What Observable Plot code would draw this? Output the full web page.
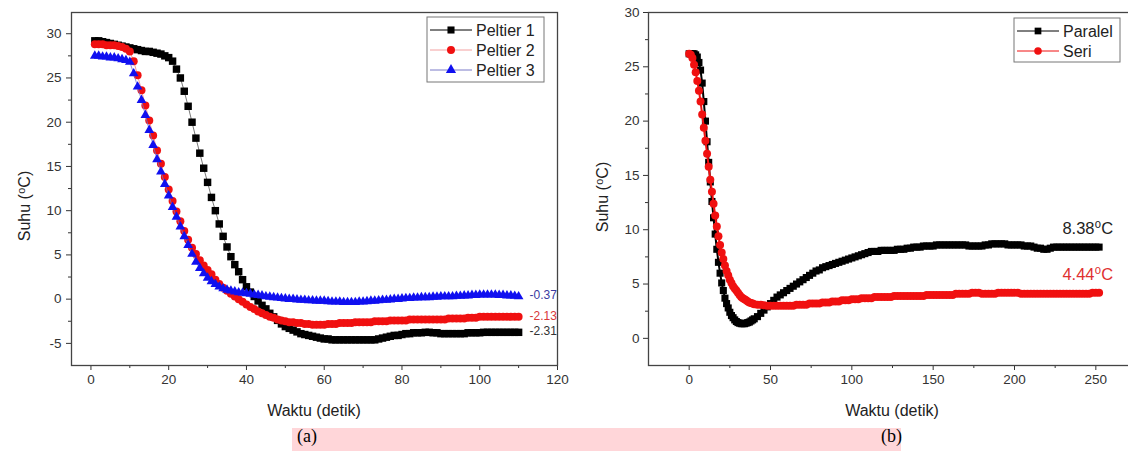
<!DOCTYPE html>
<html><head><meta charset="utf-8">
<script src="https://cdn.jsdelivr.net/npm/d3@7"></script>
<script src="https://cdn.jsdelivr.net/npm/@observablehq/plot@0.6"></script>
<style>
html,body{margin:0;padding:0;background:#fff;overflow:hidden;width:1128px;height:451px;}
#a{position:absolute;left:0;top:0;width:580px;height:425px;}
#b{position:absolute;left:580px;top:0;width:560px;height:425px;}
#a svg,#b svg{max-width:none !important;}
.band{position:absolute;left:292px;top:428px;width:609px;height:23px;background:#ffd6d9;}
.cap{position:absolute;top:426px;font-family:"Liberation Serif","Times New Roman",serif;font-size:18px;color:#000;}
</style></head><body>
<div class="band"></div>
<div id="a"></div><div id="b"></div>
<div class="cap" style="left:297px">(a)</div>
<div class="cap" style="left:881px">(b)</div>
<script>
// ---------- Panel (a) data ----------
const seriesNamesA = ["Peltier 1", "Peltier 2", "Peltier 3"];
const endLabelsA = ["-2.31", "-2.13", "-0.37"];
const timeA = [1,2,3,4,5,6,7,8,9,10,11,12,13,14,15,16,17,18,19,20,
 21,22,23,24,25,26,27,28,29,30,31,32,33,34,35,36,37,38,39,40,
 41,42,43,44,45,46,47,48,49,50,51,52,53,54,55,56,57,58,59,60,
 61,62,63,64,65,66,67,68,69,70,71,72,73,74,75,76,77,78,79,80,
 81,82,83,84,85,86,87,88,89,90,91,92,93,94,95,96,97,98,99,100,
 101,102,103,104,105,106,107,108,109,110];
const peltier1 = [29.2,29.2,29.1,29.0,28.9,28.8,28.7,28.6,28.5,28.4,
 28.3,28.2,28.1,28.0,28.0,27.9,27.8,27.7,27.5,27.3,
 26.9,26.0,25.0,23.5,21.8,20.0,18.2,16.5,14.8,13.2,
 11.5,10.0,8.5,7.1,5.9,4.8,3.9,3.1,2.2,1.4,
 0.8,0.3,-0.2,-0.7,-1.1,-1.6,-2.0,-2.4,-2.8,-3.1,
 -3.3,-3.5,-3.7,-3.9,-4.0,-4.1,-4.2,-4.3,-4.4,-4.5,
 -4.5,-4.6,-4.6,-4.6,-4.6,-4.6,-4.6,-4.6,-4.6,-4.6,
 -4.6,-4.6,-4.6,-4.5,-4.4,-4.3,-4.2,-4.1,-4.1,-4.0,
 -3.9,-3.9,-3.8,-3.8,-3.8,-3.75,-3.75,-3.8,-3.8,-3.9,
 -3.9,-3.9,-3.9,-3.9,-3.9,-3.9,-3.8,-3.8,-3.8,-3.8,
 -3.75,-3.75,-3.75,-3.75,-3.75,-3.75,-3.75,-3.75,-3.75,-3.75];
const peltier2 = [28.8,28.8,28.8,28.7,28.7,28.7,28.6,28.5,28.3,28.0,
 26.9,25.3,23.6,21.9,20.2,18.5,16.8,15.3,13.8,12.4,
 11.1,9.9,8.8,7.7,6.7,5.8,5.1,4.4,3.8,3.3,
 2.8,2.2,1.7,1.3,0.95,0.6,0.3,0.0,-0.3,-0.6,
 -0.9,-1.1,-1.4,-1.6,-1.8,-2.0,-2.1,-2.3,-2.4,-2.5,
 -2.6,-2.6,-2.7,-2.7,-2.8,-2.8,-2.9,-2.9,-2.9,-2.9,
 -2.8,-2.8,-2.8,-2.7,-2.7,-2.7,-2.7,-2.6,-2.6,-2.6,
 -2.6,-2.6,-2.5,-2.5,-2.5,-2.5,-2.4,-2.4,-2.4,-2.4,
 -2.4,-2.3,-2.3,-2.3,-2.3,-2.3,-2.3,-2.3,-2.3,-2.3,
 -2.3,-2.2,-2.2,-2.2,-2.2,-2.2,-2.1,-2.1,-2.1,-2.0,
 -2.0,-2.0,-2.0,-2.0,-2.0,-2.0,-2.0,-2.0,-2.0,-2.0];
const peltier3 = [27.5,27.5,27.4,27.4,27.3,27.3,27.2,27.1,27.0,26.8,
 25.5,24.0,22.5,20.8,19.1,17.4,15.8,14.4,13.0,11.7,
 10.4,9.3,8.2,7.1,6.1,5.1,4.2,3.5,2.9,2.4,
 2.0,1.7,1.4,1.2,1.05,0.95,0.85,0.75,0.7,0.65,
 0.6,0.5,0.45,0.4,0.3,0.25,0.2,0.15,0.1,0.05,
 0.0,0.0,-0.05,-0.1,-0.1,-0.15,-0.15,-0.2,-0.2,-0.2,
 -0.25,-0.3,-0.3,-0.3,-0.35,-0.35,-0.35,-0.35,-0.3,-0.3,
 -0.25,-0.2,-0.2,-0.15,-0.1,-0.1,-0.05,0.0,0.0,0.05,
 0.1,0.1,0.15,0.15,0.2,0.2,0.2,0.25,0.25,0.3,
 0.3,0.3,0.3,0.35,0.35,0.4,0.4,0.45,0.45,0.5,
 0.5,0.5,0.5,0.5,0.45,0.45,0.4,0.4,0.35,0.3];
const xTicksA = [0,20,40,60,80,100,120];
const xMinorA = [10,30,50,70,90,110];
const yTicksA = [-5,0,5,10,15,20,25,30];
const yMinorA = [-2.5,2.5,7.5,12.5,17.5,22.5,27.5];

// ---------- Panel (b) data ----------
const seriesNamesB = ["Paralel", "Seri"];
const endLabelsB = ["8.38\u2070C", "4.44\u2070C"];
const timeB = [0,1,2,3,4,5,6,7,8,9,10,11,12,13,14,15,16,17,18,19,20,
 21,22,23,24,25,26,27,28,29,30,31,32,33,34,35,36,37,38,39,40,
 42,44,46,48,50,52,54,56,58,60,
 62,64,66,68,70,72,74,76,78,80,
 82,84,86,88,90,92,94,96,98,100,
 102,104,106,108,110,112,114,116,118,120,
 122,124,126,128,130,132,134,136,138,140,
 142,144,146,148,150,152,154,156,158,160,
 162,164,166,168,170,172,174,176,178,180,
 182,184,186,188,190,192,194,196,198,200,
 202,204,206,208,210,212,214,216,218,220,
 222,224,226,228,230,232,234,236,238,240,
 242,244,246,248,250,252];
const paralel = [26.2,26.2,26.2,26.2,26.1,25.9,25.4,24.7,23.5,21.8,
 20.0,18.1,16.2,14.4,12.6,11.1,9.6,8.2,7.0,6.0,
 5.1,4.4,3.7,3.2,2.8,2.4,2.1,1.9,1.7,1.55,
 1.45,1.4,1.35,1.35,1.35,1.4,1.45,1.5,1.6,1.7,
 1.8,
 2.0,2.3,2.6,2.9,3.2,3.5,3.8,4.0,4.2,4.4,
 4.6,4.8,5.0,5.2,5.4,5.6,5.8,6.0,6.2,6.3,
 6.5,6.6,6.7,6.8,6.9,7.0,7.1,7.2,7.3,7.4,
 7.5,7.6,7.7,7.8,7.9,8.0,8.0,8.0,8.1,8.1,
 8.1,8.1,8.1,8.2,8.2,8.2,8.3,8.3,8.4,8.4,
 8.4,8.5,8.5,8.5,8.5,8.6,8.6,8.6,8.6,8.6,
 8.6,8.6,8.6,8.6,8.6,8.5,8.5,8.5,8.5,8.5,
 8.6,8.6,8.7,8.7,8.7,8.7,8.7,8.6,8.6,8.6,
 8.6,8.6,8.5,8.5,8.5,8.4,8.3,8.3,8.2,8.2,
 8.3,8.4,8.4,8.4,8.4,8.4,8.4,8.4,8.4,8.4,
 8.4,8.4,8.4,8.4,8.4,8.4];
const seri = [26.2,26.1,25.8,25.2,24.5,23.7,22.8,21.8,20.6,19.4,
 18.2,17.0,15.8,14.6,13.5,12.4,11.3,10.3,9.4,8.6,
 7.9,7.3,6.7,6.2,5.8,5.4,5.1,4.8,4.6,4.4,
 4.2,4.0,3.8,3.7,3.6,3.5,3.4,3.3,3.25,3.2,
 3.15,
 3.1,3.1,3.05,3.0,3.0,3.0,3.0,3.0,3.0,3.0,
 3.0,3.0,3.1,3.1,3.1,3.1,3.2,3.2,3.2,3.2,
 3.3,3.3,3.3,3.4,3.4,3.4,3.5,3.5,3.5,3.6,
 3.6,3.6,3.7,3.7,3.7,3.7,3.8,3.8,3.8,3.8,
 3.8,3.8,3.9,3.9,3.9,3.9,3.9,3.9,3.9,3.9,
 3.9,3.9,4.0,4.0,4.0,4.0,4.0,4.0,4.0,4.0,
 4.0,4.1,4.1,4.1,4.1,4.1,4.2,4.2,4.2,4.1,
 4.1,4.1,4.1,4.1,4.2,4.2,4.2,4.2,4.2,4.2,
 4.2,4.1,4.1,4.1,4.1,4.1,4.1,4.1,4.1,4.1,
 4.1,4.1,4.1,4.1,4.1,4.1,4.1,4.1,4.1,4.1,
 4.1,4.1,4.1,4.2,4.2,4.2];
const xTicksB = [0,50,100,150,200,250];
const xMinorB = [25,75,125,175,225];
const yTicksB = [0,5,10,15,20,25,30];
const yMinorB = [2.5,7.5,12.5,17.5,22.5,27.5];

const axisTitleX = "Waktu (detik)";
const axisTitleY = "Suhu (\u2070C)";

// ---------- helpers ----------
const FONT = '"Liberation Sans", Arial, "DejaVu Sans", sans-serif';
const rows = (times, vals) => times.map((t, i) => ({t, v: vals[i]}));
const fmt = d => String(d);

function axes(xt, xm, yt, ym, yPad) {
  return [
    Plot.axisX({ticks: xt, tickSize: 5, tickPadding: 4, tickFormat: fmt, fontSize: 13.5, stroke: "#333", fill: "#333"}),
    Plot.axisX({ticks: xm, tickSize: 3, tickFormat: () => "", stroke: "#333"}),
    Plot.axisY({ticks: yt, tickSize: 5, tickPadding: yPad, tickFormat: fmt, fontSize: 13.5, stroke: "#333", fill: "#333"}),
    Plot.axisY({ticks: ym, tickSize: 3, tickFormat: () => "", stroke: "#333"})
  ];
}

function addLegend(svg, box, entries) {
  const g = d3.select(svg).append("g").attr("font-family", FONT).attr("text-anchor", "start");
  g.append("rect").attr("x", box.x).attr("y", box.y).attr("width", box.w).attr("height", box.h)
    .attr("fill", "#fff").attr("stroke", "#777").attr("stroke-width", 1);
  entries.forEach((e, i) => {
    const y = box.y + box.first + i * box.step;
    g.append("line").attr("x1", box.x + 3).attr("x2", box.x + 45).attr("y1", y).attr("y2", y)
      .attr("stroke", e.line).attr("stroke-width", 1);
    g.append("path").attr("d", d3.symbol(e.sym, e.size)()).attr("transform", `translate(${box.x + 24},${y})`)
      .attr("fill", e.color);
    g.append("text").attr("x", box.x + 49).attr("y", y).attr("dy", "0.35em").attr("font-size", 16)
      .attr("text-anchor", "start").attr("fill", "#222").text(e.name);
  });
}

function addTitles(svg, yPos, xPos) {
  const g = d3.select(svg).append("g").attr("font-family", FONT).attr("font-size", 16).attr("fill", "#222")
    .attr("text-anchor", "middle");
  g.append("text").attr("transform", `translate(${yPos[0]},${yPos[1]}) rotate(-90)`).attr("dy", "0.35em").text(axisTitleY);
  g.append("text").attr("x", xPos[0]).attr("y", xPos[1]).attr("dy", "0.35em").text(axisTitleX);
}

// ---------- Panel (a) ----------
const BLACK = "#000", RED = "#f01010", BLUE = "#1010f0";
const dA1 = rows(timeA, peltier1), dA2 = rows(timeA, peltier2), dA3 = rows(timeA, peltier3);
const lastA = [dA1, dA2, dA3].map((d, i) => ({...d[d.length - 1], label: endLabelsA[i]}));
const labelColorsA = ["#333", "#d83838", "#3a3aa0"];

const A = Plot.plot({
  width: 580, height: 425,
  marginLeft: 71, marginRight: 23, marginTop: 12, marginBottom: 60,
  style: {fontFamily: FONT, background: "transparent", color: "#333", maxWidth: "none"},
  x: {domain: [-5, 120], label: null},
  y: {domain: [-7.5, 32.4], label: null},
  marks: [
    ...axes(xTicksA, xMinorA, yTicksA, yMinorA, 5),
    Plot.frame({stroke: "#444", strokeWidth: 1.3}),
    Plot.line(dA1, {x: "t", y: "v", stroke: "#555", strokeWidth: 0.8}),
    Plot.dot(dA1, {x: "t", y: "v", symbol: "square", r: 4.2, fill: BLACK}),
    Plot.line(dA2, {x: "t", y: "v", stroke: "#f08080", strokeWidth: 0.8}),
    Plot.dot(dA2, {x: "t", y: "v", symbol: "circle", r: 4, fill: RED}),
    Plot.line(dA3, {x: "t", y: "v", stroke: "#7070d0", strokeWidth: 0.8}),
    Plot.dot(dA3, {x: "t", y: "v", symbol: "triangle", r: 3.6, fill: BLUE}),
    Plot.text(lastA, {x: "t", y: "v", text: "label", dx: 11, dy: -1, textAnchor: "start", fontSize: 12,
      fill: (d, i) => labelColorsA[i]})
  ]
});
addLegend(A, {x: 427, y: 17, w: 117, h: 65, first: 13, step: 20}, [
  {name: seriesNamesA[0], sym: d3.symbolSquare, size: 50, color: BLACK, line: "#000"},
  {name: seriesNamesA[1], sym: d3.symbolCircle, size: 50, color: RED, line: "#f3a0a0"},
  {name: seriesNamesA[2], sym: d3.symbolTriangle, size: 45, color: BLUE, line: "#7a7ac8"}
]);
addTitles(A, [24, 206], [314, 410]);
document.getElementById("a").appendChild(A);

// ---------- Panel (b) ----------
const dB1 = rows(timeB, paralel), dB2 = rows(timeB, seri);
const lastB = [dB1, dB2].map((d, i) => ({...d[d.length - 1], label: endLabelsB[i]}));
const labelColorsB = ["#222", "#e03030"];

const B = Plot.plot({
  width: 560, height: 425,
  marginLeft: 68, marginRight: 4, marginTop: 12, marginBottom: 60,
  style: {fontFamily: FONT, background: "transparent", color: "#333", maxWidth: "none"},
  x: {domain: [-25, 275], label: null},
  y: {domain: [-2.5, 30], label: null},
  marks: [
    ...axes(xTicksB, xMinorB, yTicksB, yMinorB, 4),
    Plot.frame({stroke: "#444", strokeWidth: 1.3}),
    Plot.line(dB1, {x: "t", y: "v", stroke: "#000", strokeWidth: 2}),
    Plot.dot(dB1, {x: "t", y: "v", symbol: "square", r: 4, fill: BLACK}),
    Plot.line(dB2, {x: "t", y: "v", stroke: "#f01010", strokeWidth: 2}),
    Plot.dot(dB2, {x: "t", y: "v", symbol: "circle", r: 4, fill: RED}),
    Plot.text(lastB, {x: "t", y: "v", text: "label", dx: 14, dy: -18, textAnchor: "end", fontSize: 16.5,
      fill: (d, i) => labelColorsB[i]})
  ]
});
addLegend(B, {x: 434, y: 18, w: 106, h: 44, first: 13, step: 20}, [
  {name: seriesNamesB[0], sym: d3.symbolSquare, size: 45, color: BLACK, line: "#000"},
  {name: seriesNamesB[1], sym: d3.symbolCircle, size: 45, color: RED, line: "#f01010"}
]);
addTitles(B, [22, 197], [312, 410]);
document.getElementById("b").appendChild(B);
</script>
</body></html>
